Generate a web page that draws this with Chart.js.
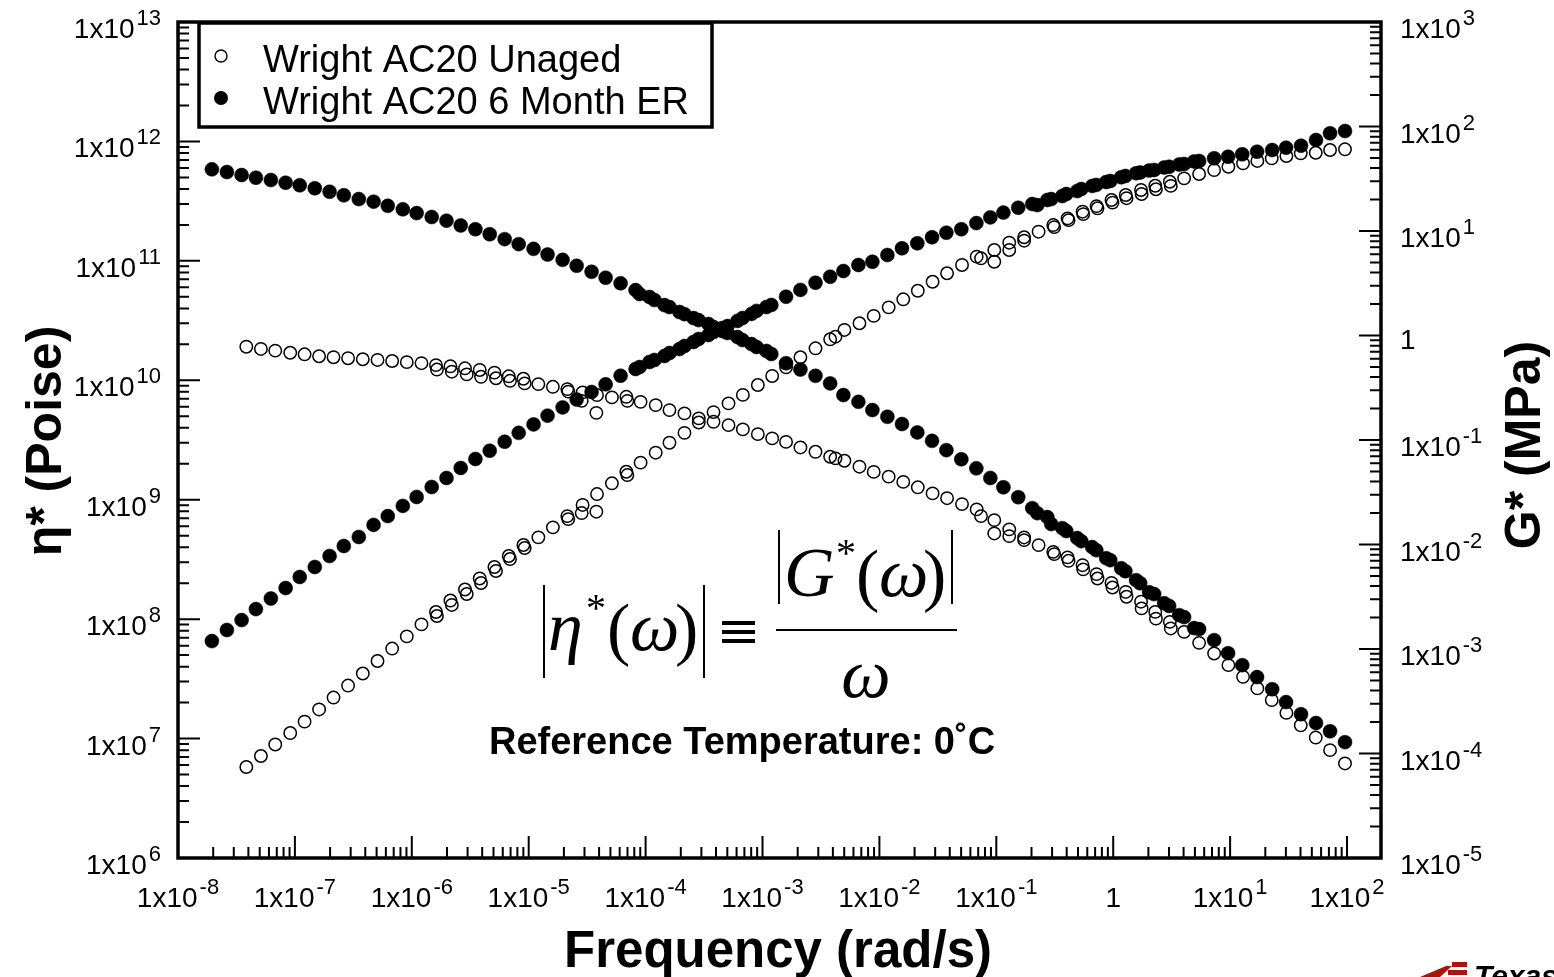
<!DOCTYPE html>
<html>
<head>
<meta charset="utf-8">
<script src="https://cdn.jsdelivr.net/npm/chart.js@4.4.0/dist/chart.umd.min.js"></script>
<style>
  html, body { margin: 0; padding: 0; background: #fff; }
  canvas { display: block; }
</style>
</head>
<body>
<canvas id="myChart" width="1554" height="977"></canvas>
<script>
// Wright AC20 unaged (open circles)
const freqUnaged = [3.84e-8, 5.12e-8, 6.79e-8, 9.12e-8, 1.21e-7, 1.61e-7, 2.14e-7, 2.85e-7, 3.81e-7, 5.09e-7,
  6.79e-7, 9.06e-7, 1.21e-6, 1.61e-6, 1.64e-6, 2.14e-6, 2.20e-6, 2.85e-6, 2.95e-6, 3.81e-6,
  3.91e-6, 5.09e-6, 5.25e-6, 6.75e-6, 6.92e-6, 9.01e-6, 9.24e-6, 1.21e-5, 1.61e-5, 2.14e-5,
  2.18e-5, 2.89e-5, 2.84e-5, 3.84e-5, 3.79e-5, 5.15e-5, 6.84e-5, 6.98e-5, 9.06e-5, 1.22e-4,
  1.60e-4, 2.15e-4, 2.85e-4, 3.81e-4, 5.12e-4, 6.79e-4, 9.12e-4, 1.21e-3, 1.59e-3, 2.11e-3,
  2.84e-3, 3.79e-3, 4.21e-3, 5.02e-3, 6.75e-3, 8.94e-3, 1.20e-2, 1.60e-2, 2.13e-2, 2.85e-2,
  3.79e-2, 5.09e-2, 6.79e-2, 7.40e-2, 9.61e-2, 9.61e-2, 0.129, 0.129, 0.173, 0.173,
  0.230, 0.307, 0.313, 0.407, 0.415, 0.547, 0.554, 0.720, 0.734, 0.967,
  0.986, 1.28, 1.30, 1.73, 1.75, 2.29, 2.32, 3.05, 3.11, 4.04,
  5.43, 7.30, 9.67, 12.9, 17.1, 22.7, 30.3, 40.2, 54.0, 71.6, 96.1];
const etaUnaged = [1.91e10, 1.83e10, 1.77e10, 1.70e10, 1.65e10, 1.59e10, 1.56e10, 1.53e10, 1.50e10, 1.48e10,
  1.45e10, 1.42e10, 1.39e10, 1.34e10, 1.23e10, 1.31e10, 1.18e10, 1.26e10, 1.12e10, 1.22e10,
  1.07e10, 1.16e10, 1.04e10, 1.08e10, 9.90e9, 1.03e10, 9.42e9, 9.29e9, 8.82e9, 8.44e9,
  8.04e9, 7.92e9, 6.73e9, 7.52e9, 5.34e9, 7.19e9, 7.27e9, 6.73e9, 6.60e9, 6.20e9,
  5.63e9, 5.28e9, 4.80e9, 4.49e9, 4.21e9, 3.88e9, 3.54e9, 3.26e9, 3.05e9, 2.74e9,
  2.52e9, 2.29e9, 2.22e9, 2.12e9, 1.89e9, 1.71e9, 1.56e9, 1.41e9, 1.27e9, 1.13e9,
  1.03e9, 9.19e8, 8.30e8, 7.29e8, 6.75e8, 5.22e8, 5.64e8, 4.96e8, 4.83e8, 4.59e8,
  4.17e8, 3.66e8, 3.50e8, 3.29e8, 3.08e8, 2.83e8, 2.61e8, 2.38e8, 2.19e8, 2.01e8,
  1.84e8, 1.69e8, 1.54e8, 1.40e8, 1.23e8, 1.15e8, 1.01e8, 9.49e7, 8.36e7, 7.83e7,
  6.33e7, 5.16e7, 4.12e7, 3.29e7, 2.63e7, 2.10e7, 1.64e7, 1.29e7, 1.02e7, 8.00e6, 6.19e6];
const gUnaged = [7.43e-5, 9.46e-5, 1.22e-4, 1.57e-4, 2.02e-4, 2.64e-4, 3.43e-4, 4.47e-4, 5.83e-4, 7.68e-4,
  1.01e-3, 1.32e-3, 1.72e-3, 2.26e-3, 2.07e-3, 2.91e-3, 2.64e-3, 3.71e-3, 3.36e-3, 4.73e-3,
  4.28e-3, 6.09e-3, 5.58e-3, 7.76e-3, 7.26e-3, 9.89e-3, 9.26e-3, 1.17e-2, 1.46e-2, 1.87e-2,
  1.75e-2, 2.39e-2, 2.00e-2, 3.04e-2, 2.06e-2, 3.85e-2, 4.97e-2, 4.62e-2, 6.07e-2, 7.56e-2,
  9.42e-2, 0.117, 0.147, 0.185, 0.224, 0.270, 0.336, 0.410, 0.496, 0.619,
  0.754, 0.920, 0.974, 1.13, 1.31, 1.54, 1.86, 2.22, 2.68, 3.27,
  3.94, 4.73, 5.68, 5.48, 6.58, 5.08, 7.73, 6.58, 8.71, 8.08,
  9.85, 11.4, 10.9, 13.2, 12.7, 15.3, 14.5, 17.3, 16.5, 19.8,
  18.7, 22.1, 20.6, 24.7, 22.6, 27.1, 25.1, 29.6, 27.0, 31.9,
  35.1, 38.3, 41.2, 44.4, 46.8, 49.6, 52.2, 55.4, 56.1, 59.6, 60.5];

// Wright AC20 6 month ER (filled circles)
const freqAged = [1.95e-8, 2.62e-8, 3.50e-8, 4.64e-8, 6.23e-8, 8.33e-8, 1.10e-7, 1.48e-7, 1.98e-7, 2.62e-7,
  3.52e-7, 4.71e-7, 6.23e-7, 8.38e-7, 1.10e-6, 1.48e-6, 1.98e-6, 2.62e-6, 3.50e-6, 4.64e-6,
  6.23e-6, 8.21e-6, 1.10e-5, 1.45e-5, 1.95e-5, 2.57e-5, 3.45e-5, 4.55e-5, 6.11e-5, 8.21e-5,
  8.89e-5, 1.08e-4, 1.19e-4, 1.45e-4, 1.60e-4, 1.95e-4, 2.15e-4, 2.57e-4, 2.84e-4, 3.45e-4,
  3.81e-4, 4.55e-4, 5.02e-4, 6.11e-4, 6.75e-4, 8.05e-4, 8.89e-4, 1.08e-3, 1.19e-3, 1.59e-3,
  2.11e-3, 2.84e-3, 3.79e-3, 4.92e-3, 6.61e-3, 8.71e-3, 1.17e-2, 1.56e-2, 2.11e-2, 2.82e-2,
  3.74e-2, 5.02e-2, 6.75e-2, 8.89e-2, 0.115, 0.154, 0.203, 0.224, 0.273, 0.295,
  0.367, 0.397, 0.492, 0.533, 0.661, 0.716, 0.871, 0.943, 1.17, 1.27,
  1.57, 1.70, 2.03, 2.24, 2.73, 3.01, 3.67, 4.04, 4.92, 5.43,
  7.30, 9.61, 12.7, 17.0, 22.9, 30.1, 40.4, 54.3, 71.6, 96.1];
const etaAged = [5.84e11, 5.54e11, 5.23e11, 4.97e11, 4.75e11, 4.51e11, 4.29e11, 4.05e11, 3.79e11, 3.54e11,
  3.29e11, 3.13e11, 2.89e11, 2.70e11, 2.51e11, 2.33e11, 2.17e11, 1.98e11, 1.84e11, 1.67e11,
  1.52e11, 1.38e11, 1.26e11, 1.13e11, 1.02e11, 9.10e10, 8.10e10, 7.22e10, 6.48e10, 5.69e10,
  5.27e10, 4.98e10, 4.70e10, 4.26e10, 4.10e10, 3.73e10, 3.58e10, 3.32e10, 3.19e10, 2.96e10,
  2.79e10, 2.58e10, 2.49e10, 2.30e10, 2.17e10, 2.01e10, 1.90e10, 1.76e10, 1.66e10, 1.39e10,
  1.23e10, 1.09e10, 9.42e9, 7.52e9, 6.60e9, 5.63e9, 4.95e9, 4.30e9, 3.66e9, 3.11e9,
  2.60e9, 2.18e9, 1.83e9, 1.52e9, 1.27e9, 1.05e9, 8.50e8, 7.72e8, 7.15e8, 6.25e8,
  5.78e8, 5.46e8, 4.77e8, 4.50e8, 4.01e8, 3.78e8, 3.24e8, 3.12e8, 2.67e8, 2.52e8,
  2.12e8, 2.00e8, 1.68e8, 1.62e8, 1.36e8, 1.29e8, 1.08e8, 1.04e8, 8.41e7, 8.25e7,
  6.67e7, 5.19e7, 4.12e7, 3.27e7, 2.59e7, 2.02e7, 1.60e7, 1.35e7, 1.15e7, 9.33e6];
const gAged = [1.19e-3, 1.52e-3, 1.89e-3, 2.41e-3, 3.04e-3, 3.83e-3, 4.89e-3, 6.09e-3, 7.76e-3, 9.67e-3,
  1.18e-2, 1.54e-2, 1.87e-2, 2.34e-2, 2.85e-2, 3.55e-2, 4.33e-2, 5.40e-2, 6.58e-2, 7.90e-2,
  9.63e-2, 0.117, 0.141, 0.171, 0.205, 0.244, 0.288, 0.341, 0.412, 0.478,
  0.499, 0.558, 0.583, 0.636, 0.680, 0.743, 0.793, 0.867, 0.926, 1.01,
  1.08, 1.18, 1.23, 1.38, 1.47, 1.61, 1.72, 1.87, 1.96, 2.35,
  2.73, 3.20, 3.65, 4.14, 4.73, 5.08, 5.89, 6.83, 7.63, 8.71,
  9.63, 10.4, 11.9, 13.5, 15.0, 16.7, 18.1, 17.7, 19.8, 20.2,
  21.6, 22.6, 24.1, 25.2, 27.0, 27.6, 29.4, 30.1, 32.7, 33.6,
  35.7, 36.3, 37.9, 38.3, 40.5, 41.2, 43.3, 43.8, 46.3, 46.8,
  49.6, 51.4, 54.2, 57.4, 59.6, 62.7, 65.5, 74.3, 86.1, 90.5];

// tick labels (decades)
const xTickValues = [1e-8, 1e-7, 1e-6, 1e-5, 1e-4, 1e-3, 1e-2, 1e-1, 1, 1e1, 1e2];
const xTickLabels = ['1x10^-8', '1x10^-7', '1x10^-6', '1x10^-5', '1x10^-4', '1x10^-3', '1x10^-2', '1x10^-1', '1', '1x10^1', '1x10^2'];
const etaTickValues = [1e6, 1e7, 1e8, 1e9, 1e10, 1e11, 1e12, 1e13];
const etaTickLabels = ['1x10^6', '1x10^7', '1x10^8', '1x10^9', '1x10^10', '1x10^11', '1x10^12', '1x10^13'];
const gTickValues = [1e-5, 1e-4, 1e-3, 1e-2, 1e-1, 1, 1e1, 1e2, 1e3];
const gTickLabels = ['1x10^-5', '1x10^-4', '1x10^-3', '1x10^-2', '1x10^-1', '1', '1x10^1', '1x10^2', '1x10^3'];

const legendLabels = ['Wright AC20 Unaged', 'Wright AC20 6 Month ER'];

const SANS = '"Liberation Sans", Arial, Helvetica, sans-serif';
const SERIF = '"Liberation Serif", "Times New Roman", serif';

const toPoints = (xs, ys) => xs.map((x, i) => ({ x: x, y: ys[i] }));

// label like 1x10^-8, drawn with a raised exponent
function drawPow(ctx, label, x, baseline, align) {
  const parts = label.split('^');
  ctx.font = '28px ' + SANS;
  const wb = ctx.measureText(parts[0]).width;
  ctx.font = '22px ' + SANS;
  const we = parts[1] ? ctx.measureText(parts[1]).width + 2 : 0;
  let left = x;
  if (align === 'right') left = x - wb - we;
  if (align === 'center') left = x - (wb + we) / 2;
  ctx.textAlign = 'left';
  ctx.textBaseline = 'alphabetic';
  ctx.font = '28px ' + SANS;
  ctx.fillText(parts[0], left, baseline);
  if (parts[1]) {
    ctx.font = '22px ' + SANS;
    ctx.fillText(parts[1], left + wb + 2, baseline - 13);
  }
}

const decor = {
  id: 'decor',
  beforeDatasetsDraw(chart) {
    const ctx = chart.ctx;
    const a = chart.chartArea;
    const sx = chart.scales.x, sy = chart.scales.y, sy2 = chart.scales.y2;
    ctx.save();
    ctx.strokeStyle = '#000';
    ctx.fillStyle = '#000';

    // ticks
    ctx.lineWidth = 2;
    ctx.beginPath();
    for (let e = -8; e <= 2; e++) {
      for (let m = 1; m <= 9; m++) {
        const v = m * Math.pow(10, e);
        if (v > sx.max) break;
        const px = sx.getPixelForValue(v);
        const len = m === 1 ? 22 : 11;
        ctx.moveTo(px, a.bottom);
        ctx.lineTo(px, a.bottom - len);
      }
    }
    for (let e = 6; e <= 13; e++) {
      for (let m = 1; m <= 9; m++) {
        const v = m * Math.pow(10, e);
        if (v > sy.max * 1.0001) break;
        const py = sy.getPixelForValue(v);
        const len = m === 1 ? 22 : 11;
        ctx.moveTo(a.left, py);
        ctx.lineTo(a.left + len, py);
      }
    }
    for (let e = -5; e <= 3; e++) {
      for (let m = 1; m <= 9; m++) {
        const v = m * Math.pow(10, e);
        if (v > sy2.max * 1.0001) break;
        const py = sy2.getPixelForValue(v);
        const len = m === 1 ? 22 : 11;
        ctx.moveTo(a.right, py);
        ctx.lineTo(a.right - len, py);
      }
    }
    ctx.stroke();

    // frame
    ctx.lineWidth = 3.5;
    ctx.strokeRect(a.left, a.top, a.right - a.left, a.bottom - a.top);

    // tick labels
    xTickValues.forEach((v, i) => {
      drawPow(ctx, xTickLabels[i], sx.getPixelForValue(v), a.bottom + 49, 'center');
    });
    etaTickValues.forEach((v, i) => {
      drawPow(ctx, etaTickLabels[i], 161, sy.getPixelForValue(v) + 16, 'right');
    });
    gTickValues.forEach((v, i) => {
      const plain = gTickLabels[i].indexOf('^') < 0;
      drawPow(ctx, gTickLabels[i], 1400, sy2.getPixelForValue(v) + (plain ? 13 : 16), 'left');
    });

    // axis titles
    ctx.font = 'bold 51px ' + SANS;
    ctx.textAlign = 'center';
    ctx.textBaseline = 'alphabetic';
    ctx.fillText('Frequency (rad/s)', 778, 967);

    ctx.save();
    ctx.translate(61, 441);
    ctx.rotate(-Math.PI / 2);
    ctx.font = 'bold 50px ' + SANS;
    ctx.fillText('\u03b7* (Poise)', 0, 0);
    ctx.restore();

    ctx.save();
    ctx.translate(1540, 445);
    ctx.rotate(-Math.PI / 2);
    ctx.font = 'bold 50px ' + SANS;
    ctx.fillText('G* (MPa)', 0, 0);
    ctx.restore();

    ctx.restore();
  },
  afterDatasetsDraw(chart) {
    const ctx = chart.ctx;
    ctx.save();
    ctx.fillStyle = '#000';
    ctx.strokeStyle = '#000';

    // legend box
    ctx.fillStyle = '#fff';
    ctx.fillRect(199, 23, 513, 104);
    ctx.fillStyle = '#000';
    ctx.lineWidth = 3.5;
    ctx.strokeRect(199, 23, 513, 104);
    ctx.lineWidth = 1.4;
    ctx.beginPath();
    ctx.arc(221, 56, 6, 0, Math.PI * 2);
    ctx.stroke();
    ctx.beginPath();
    ctx.arc(221, 98, 7, 0, Math.PI * 2);
    ctx.fill();
    ctx.font = '38px ' + SANS;
    ctx.textAlign = 'left';
    ctx.textBaseline = 'alphabetic';
    ctx.fillText(legendLabels[0], 263, 72);
    ctx.fillText(legendLabels[1], 263, 114);

    // formula |eta*(w)| = |G*(w)| / w
    ctx.lineWidth = 2;
    ctx.beginPath();
    ctx.moveTo(544, 585); ctx.lineTo(544, 678);
    ctx.moveTo(704, 585); ctx.lineTo(704, 678);
    ctx.moveTo(779, 530); ctx.lineTo(779, 604);
    ctx.moveTo(952, 530); ctx.lineTo(952, 604);
    ctx.moveTo(776, 630); ctx.lineTo(957, 630);
    ctx.stroke();
    ctx.font = 'italic 70px ' + SERIF;
    ctx.fillText('\u03b7', 548, 650);
    ctx.font = '40px ' + SERIF;
    ctx.fillText('*', 586, 621);
    ctx.font = '70px ' + SERIF;
    ctx.fillText('(', 607, 652);
    ctx.font = 'italic 70px ' + SERIF;
    ctx.fillText('\u03c9', 630, 650);
    ctx.font = '70px ' + SERIF;
    ctx.fillText(')', 675, 652);
    // identity sign drawn as three bars
    ctx.fillRect(722, 621, 33, 4);
    ctx.fillRect(722, 630, 33, 4);
    ctx.fillRect(722, 639, 33, 4);
    ctx.font = 'italic 70px ' + SERIF;
    ctx.fillText('G', 784, 596);
    ctx.font = '40px ' + SERIF;
    ctx.fillText('*', 836, 566);
    ctx.font = '70px ' + SERIF;
    ctx.fillText('(', 856, 598);
    ctx.font = 'italic 70px ' + SERIF;
    ctx.fillText('\u03c9', 879, 596);
    ctx.font = '70px ' + SERIF;
    ctx.fillText(')', 923, 598);
    ctx.textAlign = 'center';
    ctx.font = 'italic 70px ' + SERIF;
    ctx.fillText('\u03c9', 866, 697);

    ctx.font = 'bold 38px ' + SANS;
    ctx.fillText('Reference Temperature: 0\u02daC', 742, 754);

    // logo fragment in the corner
    ctx.fillStyle = '#a3170f';
    ctx.beginPath();
    ctx.moveTo(1420, 977); ctx.lineTo(1446, 966); ctx.lineTo(1452, 966); ctx.lineTo(1440, 977);
    ctx.closePath();
    ctx.fill();
    ctx.fillRect(1452, 962, 15, 5);
    ctx.fillRect(1448, 970, 19, 5);
    ctx.fillStyle = '#000';
    ctx.textAlign = 'left';
    ctx.font = 'italic bold 30px ' + SANS;
    ctx.fillText('Texas', 1474, 986);
    ctx.restore();
  }
};

new Chart(document.getElementById('myChart'), {
  type: 'scatter',
  data: {
    datasets: [
      {
        label: 'eta* 6 Month ER',
        data: toPoints(freqAged, etaAged),
        yAxisID: 'y',
        pointRadius: 7,
        pointBackgroundColor: '#000',
        pointBorderColor: '#000',
        pointBorderWidth: 0.5
      },
      {
        label: 'G* 6 Month ER',
        data: toPoints(freqAged, gAged),
        yAxisID: 'y2',
        pointRadius: 7,
        pointBackgroundColor: '#000',
        pointBorderColor: '#000',
        pointBorderWidth: 0.5
      },
      {
        label: 'eta* Unaged',
        data: toPoints(freqUnaged, etaUnaged),
        yAxisID: 'y',
        pointRadius: 6.2,
        pointBackgroundColor: 'rgba(0,0,0,0)',
        pointBorderColor: '#000',
        pointBorderWidth: 1.5
      },
      {
        label: 'G* Unaged',
        data: toPoints(freqUnaged, gUnaged),
        yAxisID: 'y2',
        pointRadius: 6.2,
        pointBackgroundColor: 'rgba(0,0,0,0)',
        pointBorderColor: '#000',
        pointBorderWidth: 1.5
      }
    ]
  },
  options: {
    responsive: false,
    devicePixelRatio: 1,
    animation: false,
    layout: { padding: { left: 178, top: 22, right: 173, bottom: 119 } },
    plugins: {
      legend: { display: false },
      tooltip: { enabled: false }
    },
    scales: {
      x: { type: 'logarithmic', min: 1e-8, max: 195.3, display: false },
      y: { type: 'logarithmic', position: 'left', min: 1e6, max: 1e13, display: false },
      y2: { type: 'logarithmic', position: 'right', min: 1e-5, max: 1e3, display: false }
    }
  },
  plugins: [decor]
});
</script>
</body>
</html>
